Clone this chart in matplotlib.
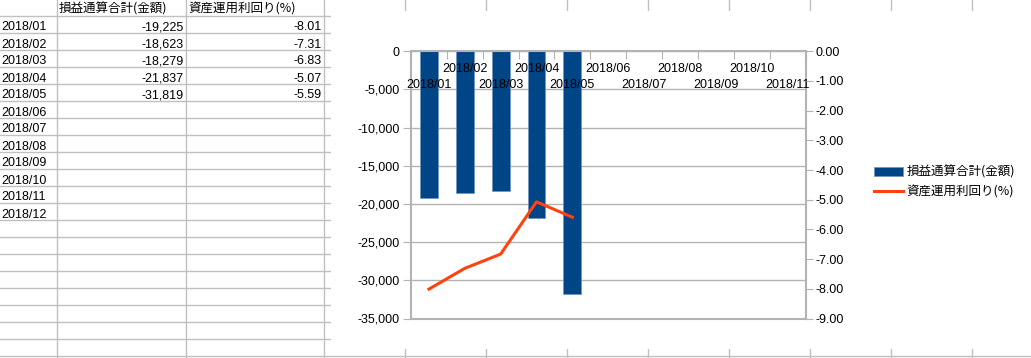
import numpy as np
import matplotlib.pyplot as plt
from matplotlib.patches import Rectangle
from matplotlib.ticker import FuncFormatter, MultipleLocator

# table / chart data
months = ['2018/01', '2018/02', '2018/03', '2018/04', '2018/05', '2018/06',
          '2018/07', '2018/08', '2018/09', '2018/10', '2018/11', '2018/12']
loss = [-19225, -18623, -18279, -21837, -31819]
rate = [-8.01, -7.31, -6.83, -5.07, -5.59]
head_loss = '損益通算合計(金額)'
head_rate = '資産運用利回り(%)'
chart_cats = months[:11]

latin = ['Liberation Sans', 'DejaVu Sans']
cjk = ['Noto Sans CJK JP', 'DejaVu Sans']
plt.rcParams['font.family'] = latin
plt.rcParams['font.size'] = 9

fig = plt.figure(figsize=(10.31, 3.58), dpi=100)

# spreadsheet background drawn in pixel coordinates
bg = fig.add_axes([0, 0, 1, 1])
bg.set_xlim(0, 1031)
bg.set_ylim(358, 0)
bg.axis('off')

grid_c = '#c0c0c0'
for k in range(21):
    bg.plot([0, 1031], [16 + 17 * k] * 2, color=grid_c, lw=1, zorder=1)
for x in [57, 186] + [324 + 81 * k for k in range(9)]:
    bg.plot([x, x], [0, 358], color=grid_c, lw=1, zorder=1)

# header
bg.text(59, 13, head_loss, family=cjk, fontsize=9, zorder=2)
bg.text(188, 13, head_rate, family=cjk, fontsize=9, zorder=2)

# rows
for i, m in enumerate(months):
    base = 16 + 17 * i + 14.5
    bg.text(1, base, m, zorder=2)
    if i < len(loss):
        bg.text(184, base, f'{loss[i]:,}', ha='right', zorder=2)
        bg.text(322, base, f'{rate[i]:.2f}', ha='right', zorder=2)

# chart object area
bg.add_patch(Rectangle((331, 11), 710, 338, fc='white', ec='none', zorder=3))

# chart
ax_c = '#b3b3b3'
ax = fig.add_axes([411 / 1031, (358 - 318.5) / 358,
                   (805.5 - 411) / 1031, (318.5 - 51.3) / 358])
ax.set_zorder(5)
xs = np.arange(len(chart_cats))
bars = ax.bar(xs[:len(loss)], loss, width=0.5, color='#004586',
              edgecolor='#6f93bd', lw=0.5, label=head_loss, zorder=2)
ax.set_xlim(-0.5, len(chart_cats) - 0.5)
ax.set_ylim(-35000, 0)
ax.yaxis.set_major_locator(MultipleLocator(5000))
ax.yaxis.set_major_formatter(FuncFormatter(lambda v, p: f'{v:,.0f}'))
ax.grid(axis='y', color=ax_c, lw=1)
ax.set_axisbelow(True)
for s in ax.spines.values():
    s.set_color(ax_c)
    s.set_linewidth(1.5)
ax.tick_params(axis='y', direction='out', length=6, color=ax_c, pad=2)
ax.xaxis.set_ticks_position('top')
ax.set_xticks(np.arange(-0.5, len(chart_cats), 1))
ax.tick_params(axis='x', direction='in', length=6, color=ax_c,
               labeltop=False, labelbottom=False)

# staggered category labels under the zero line
for i, c in enumerate(chart_cats):
    off = -12.5 if i % 2 == 1 else -24
    ax.annotate(c, xy=(i, 0), xytext=(0, off), textcoords='offset points',
                ha='center', va='center', annotation_clip=False)

ax2 = ax.twinx()
line, = ax2.plot(xs[:len(rate)], rate, color='#ff420e', lw=2.2,
                 label=head_rate)
ax2.set_ylim(-9, 0)
ax2.yaxis.set_major_locator(MultipleLocator(1))
ax2.yaxis.set_major_formatter(FuncFormatter(lambda v, p: f'{v:.2f}'))
for s in ax2.spines.values():
    s.set_visible(False)
ax2.tick_params(axis='y', direction='out', length=5, color=ax_c, pad=2)

fig.legend([bars, line], [head_loss, head_rate],
           loc='center left', bbox_to_anchor=(874 / 1031, 1 - 182 / 358),
           frameon=False, prop={'family': cjk, 'size': 9},
           handlelength=2.3, handletextpad=0.3, labelspacing=0.55,
           borderpad=0, borderaxespad=0)

fig.savefig('out.png', dpi=100)
